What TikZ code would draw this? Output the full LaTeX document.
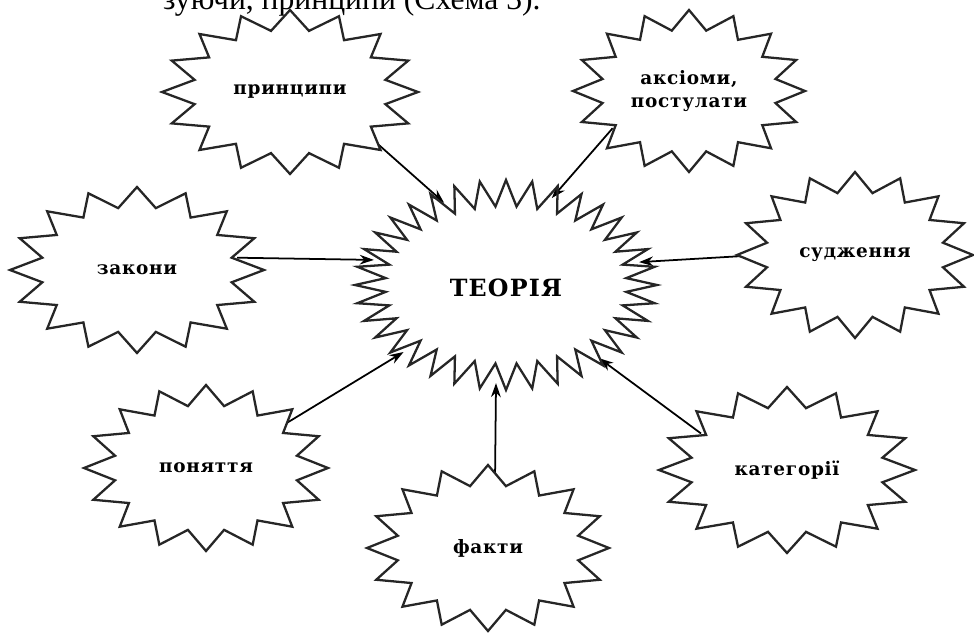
\documentclass[tikz,border=0pt]{standalone}
\usepackage{fontspec}
\setmainfont{DejaVu Serif}
\newfontfamily\topfont{Liberation Serif}
\usetikzlibrary{shapes.geometric,arrows.meta}
\pgfdeclarelayer{lines}
\pgfsetlayers{lines,main}

\begin{document}
\begin{tikzpicture}[x=0.02cm, y=-0.02cm, >={Stealth[length=8pt, width=5.5pt]},
  burst/.style={draw=black!85, fill=white, line width=1.3pt, line join=miter},
  word/.style={ellipse, inner sep=0pt, align=center, font=\bfseries\fontsize{10.5}{13}\selectfont\addfontfeatures{LetterSpace=4}},
  link/.style={->, line width=1pt}]
  \useasboundingbox (0,0) rectangle (974,639);
  \clip (0,0) rectangle (974,639);
  % the line of text above the scheme, cut by the page
  \node[anchor=base east, inner sep=0pt, font=\topfont\fontsize{18}{20}\selectfont] (caption) at (541,10) {зуючи, принципи (Схема 3).};
  % outer stars: name/x/y/rx/ry/label
  \foreach \nm/\x/\y/\rx/\ry/\txt in {
      pryntsypy/290/92/128/82/принципи,
      aksiomy/689/91/116/81/{аксіоми,\\постулати},
      zakony/137/270/127/83/закони,
      sudzhennia/855/255/118/83/судження,
      poniattia/206/468/122/83/поняття,
      fakty/488/548/121/83/факти,
      katehorii/787/470/128/83/категорії} {
    \draw[burst, shift={(\x,\y)}] plot[variable=\k, domain=0:32, samples=33]
      ({\rx*(1-0.24*mod(round(\k),2))*cos(90+11.25*\k)}, {\ry*(1-0.24*mod(round(\k),2))*sin(90+11.25*\k)}) -- cycle;
    \node[word, minimum width=0.032cm*\rx, minimum height=0.032cm*\ry] (\nm) at (\x,\y) {\txt};
  }
  % central star
  \draw[draw=black!85, line width=1.3pt, line join=miter, shift={(506,285)}] plot[variable=\k, domain=0:72, samples=73]
    ({151*(1-0.2*mod(round(\k),2))*cos(90+5*\k)}, {105*(1-0.25*mod(round(\k),2))*sin(90+5*\k)}) -- cycle;
  \node[word, font=\bfseries\fontsize{13.5}{16}\selectfont\addfontfeatures{LetterSpace=5}, minimum width=0.04cm*138, minimum height=0.04cm*95] (teoria) at (506,288) {ТЕОРІЯ};
  \begin{pgfonlayer}{lines}
    \draw[link] (pryntsypy.331) -- (teoria.126);
    \draw[link] (aksiomy.206) -- (teoria.63);
    \draw[link] (zakony.7) -- (teoria.168);
    \draw[link] (sudzhennia.180) -- (teoria.11);
    \draw[link] (poniattia.29) -- (teoria.212);
    \draw[link] (fakty.84) -- (teoria.264);
    \draw[link] (katehorii.157) -- (teoria.323);
  \end{pgfonlayer}
\end{tikzpicture}
\end{document}
